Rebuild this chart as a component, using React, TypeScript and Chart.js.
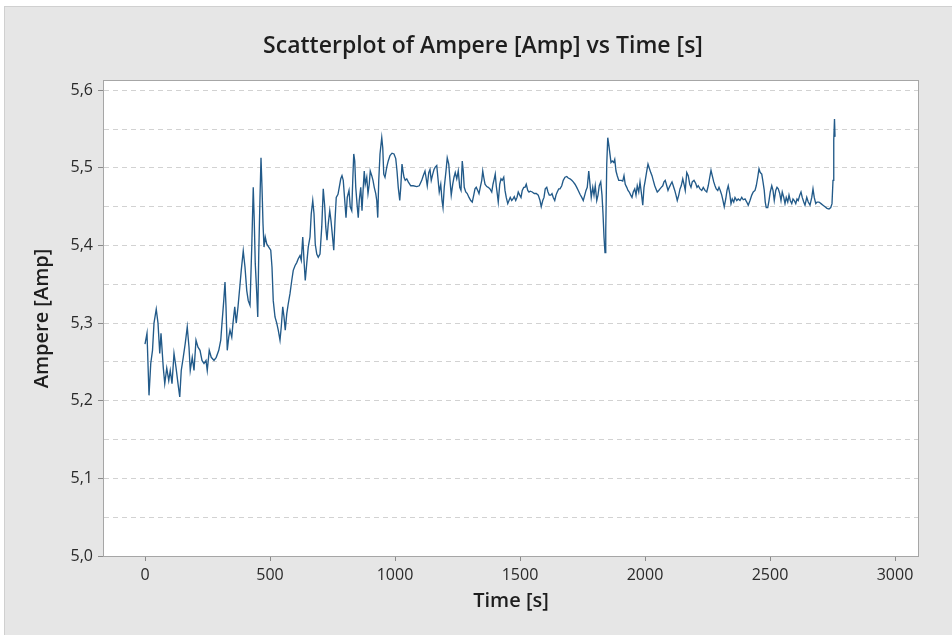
import React, { useEffect, useRef } from "react";
import { Chart, registerables } from "chart.js";

Chart.register(...registerables);

const TITLE = "Scatterplot of Ampere [Amp] vs Time [s]";
const X_TITLE = "Time [s]";
const Y_TITLE = "Ampere [Amp]";

const X_TICKS = [0, 500, 1000, 1500, 2000, 2500, 3000];
const Y_GRID = [5.0, 5.05, 5.1, 5.15, 5.2, 5.25, 5.3, 5.35, 5.4, 5.45, 5.5, 5.55, 5.6];
const Y_LABELED = [5.0, 5.1, 5.2, 5.3, 5.4, 5.5, 5.6];

const TIME = [
  0, 8, 16, 23, 30, 36, 45, 52, 59, 64, 73, 79, 87, 95, 101, 108, 116, 124, 132, 139,
  145, 153, 161, 169, 176, 181, 189, 196, 204, 212, 220, 228, 236, 244, 249, 257, 265, 276, 285, 295,
  303, 308, 315, 320, 324, 329, 335, 340, 347, 352, 359, 365, 372, 379, 385, 393, 400, 407, 413, 420,
  427, 433, 437, 441, 447, 451, 455, 460, 464, 468, 472, 476, 481, 487, 495, 503, 508, 513, 520, 527,
  533, 540, 545, 551, 556, 561, 567, 573, 580, 587, 593, 600, 607, 613, 620, 625, 631, 636, 641, 647,
  653, 660, 665, 671, 676, 681, 687, 693, 700, 707, 713, 719, 723, 728, 733, 739, 744, 749, 755, 760,
  765, 772, 777, 783, 788, 793, 799, 804, 809, 816, 821, 827, 831, 835, 839, 843, 848, 853, 857, 863,
  868, 873, 877, 881, 887, 892, 897, 901, 907, 912, 917, 923, 927, 931, 935, 940, 947, 951, 955, 960,
  967, 973, 980, 988, 996, 1003, 1008, 1013, 1019, 1023, 1028, 1032, 1036, 1041, 1047, 1053, 1063, 1073, 1087, 1097,
  1107, 1113, 1120, 1124, 1129, 1135, 1140, 1145, 1151, 1156, 1161, 1167, 1172, 1177, 1183, 1188, 1192, 1197, 1204, 1209,
  1215, 1220, 1225, 1231, 1236, 1241, 1247, 1253, 1259, 1264, 1269, 1273, 1277, 1283, 1289, 1296, 1303, 1309, 1315, 1320,
  1325, 1331, 1336, 1341, 1347, 1351, 1355, 1360, 1367, 1373, 1380, 1387, 1392, 1397, 1401, 1405, 1409, 1413, 1419, 1424,
  1429, 1435, 1440, 1445, 1451, 1456, 1461, 1467, 1472, 1477, 1483, 1488, 1493, 1499, 1504, 1509, 1515, 1520, 1525, 1531,
  1536, 1541, 1549, 1557, 1565, 1573, 1580, 1585, 1591, 1596, 1601, 1607, 1612, 1617, 1623, 1628, 1633, 1639, 1644, 1649,
  1655, 1660, 1667, 1673, 1680, 1687, 1693, 1700, 1707, 1713, 1720, 1727, 1733, 1740, 1747, 1753, 1759, 1764, 1769, 1775,
  1780, 1785, 1791, 1796, 1801, 1807, 1812, 1817, 1823, 1828, 1832, 1836, 1840, 1843, 1847, 1851, 1855, 1859, 1864, 1869,
  1875, 1879, 1884, 1889, 1895, 1900, 1905, 1911, 1916, 1921, 1927, 1932, 1937, 1943, 1948, 1953, 1959, 1964, 1969, 1975,
  1980, 1985, 1991, 1996, 2001, 2007, 2012, 2017, 2023, 2028, 2033, 2039, 2044, 2049, 2055, 2060, 2065, 2071, 2076, 2081,
  2087, 2092, 2097, 2103, 2108, 2113, 2119, 2124, 2129, 2135, 2140, 2145, 2151, 2156, 2161, 2167, 2173, 2179, 2184, 2189,
  2196, 2203, 2208, 2213, 2220, 2227, 2233, 2240, 2247, 2253, 2259, 2264, 2269, 2275, 2280, 2285, 2291, 2296, 2301, 2307,
  2312, 2317, 2323, 2328, 2333, 2339, 2344, 2349, 2355, 2360, 2367, 2373, 2380, 2387, 2393, 2400, 2407, 2413, 2420, 2427,
  2433, 2440, 2445, 2451, 2456, 2461, 2467, 2472, 2477, 2481, 2485, 2491, 2496, 2501, 2507, 2512, 2517, 2523, 2528, 2533,
  2539, 2544, 2549, 2555, 2560, 2565, 2571, 2576, 2581, 2587, 2592, 2597, 2603, 2608, 2613, 2619, 2624, 2629, 2635, 2640,
  2647, 2653, 2660, 2667, 2672, 2677, 2683, 2688, 2696, 2704, 2712, 2720, 2728, 2736, 2743, 2748, 2752, 2755, 2758, 2760,
];

const AMPERE = [
  5.273, 5.287, 5.207, 5.248, 5.265, 5.3, 5.318, 5.3, 5.261, 5.287, 5.243, 5.222, 5.242, 5.226, 5.239, 5.222, 5.261, 5.243, 5.222, 5.205,
  5.239, 5.256, 5.274, 5.295, 5.269, 5.239, 5.256, 5.239, 5.278, 5.269, 5.265, 5.252, 5.248, 5.252, 5.239, 5.265, 5.256, 5.252, 5.256, 5.265,
  5.278, 5.3, 5.329, 5.353, 5.321, 5.265, 5.282, 5.291, 5.282, 5.3, 5.321, 5.3, 5.321, 5.346, 5.368, 5.393, 5.372, 5.342, 5.329, 5.323,
  5.398, 5.475, 5.432, 5.377, 5.338, 5.308, 5.389, 5.462, 5.513, 5.475, 5.428, 5.398, 5.411, 5.402, 5.398, 5.394, 5.372, 5.329, 5.308, 5.3,
  5.291, 5.278, 5.295, 5.321, 5.308, 5.291, 5.312, 5.325, 5.338, 5.355, 5.368, 5.374, 5.378, 5.383, 5.387, 5.381, 5.411, 5.381, 5.355, 5.377,
  5.398, 5.411, 5.441, 5.458, 5.441, 5.402, 5.389, 5.385, 5.389, 5.424, 5.473, 5.45, 5.424, 5.407, 5.428, 5.445, 5.432, 5.415, 5.394, 5.432,
  5.462, 5.466, 5.475, 5.486, 5.49, 5.484, 5.458, 5.436, 5.462, 5.471, 5.45, 5.445, 5.484, 5.518, 5.509, 5.475, 5.454, 5.436, 5.458, 5.475,
  5.445, 5.475, 5.496, 5.479, 5.488, 5.467, 5.479, 5.496, 5.49, 5.484, 5.475, 5.467, 5.458, 5.436, 5.484, 5.518, 5.539, 5.526, 5.492, 5.488,
  5.501, 5.509, 5.516, 5.519, 5.518, 5.512, 5.496, 5.475, 5.458, 5.475, 5.505, 5.496, 5.488, 5.484, 5.486, 5.482, 5.477, 5.477, 5.476, 5.477,
  5.484, 5.49, 5.496, 5.488, 5.477, 5.494, 5.498, 5.484, 5.492, 5.498, 5.501, 5.503, 5.486, 5.469, 5.479, 5.458, 5.449, 5.475, 5.496, 5.513,
  5.505, 5.484, 5.465, 5.479, 5.488, 5.494, 5.486, 5.496, 5.475, 5.471, 5.509, 5.496, 5.475, 5.469, 5.467, 5.462, 5.458, 5.456, 5.465, 5.473,
  5.475, 5.471, 5.467, 5.475, 5.484, 5.496, 5.488, 5.479, 5.476, 5.475, 5.473, 5.469, 5.479, 5.486, 5.492, 5.477, 5.467, 5.456, 5.479, 5.486,
  5.484, 5.488, 5.471, 5.462, 5.454, 5.458, 5.462, 5.458, 5.46, 5.463, 5.458, 5.462, 5.469, 5.465, 5.462, 5.471, 5.475, 5.475, 5.479, 5.471,
  5.469, 5.47, 5.469, 5.467, 5.467, 5.465, 5.458, 5.45, 5.458, 5.462, 5.473, 5.475, 5.469, 5.465, 5.465, 5.467, 5.462, 5.458, 5.465, 5.469,
  5.473, 5.473, 5.477, 5.484, 5.488, 5.489, 5.487, 5.486, 5.484, 5.482, 5.479, 5.475, 5.471, 5.466, 5.462, 5.458, 5.465, 5.471, 5.475, 5.496,
  5.479, 5.462, 5.475, 5.465, 5.477, 5.458, 5.465, 5.477, 5.482, 5.465, 5.441, 5.411, 5.391, 5.42, 5.505, 5.539, 5.53, 5.52, 5.507, 5.509,
  5.507, 5.511, 5.496, 5.49, 5.484, 5.484, 5.484, 5.483, 5.49, 5.479, 5.475, 5.471, 5.469, 5.465, 5.462, 5.469, 5.473, 5.465, 5.477, 5.469,
  5.482, 5.469, 5.452, 5.475, 5.484, 5.496, 5.505, 5.5, 5.494, 5.49, 5.484, 5.477, 5.473, 5.469, 5.471, 5.473, 5.475, 5.477, 5.482, 5.484,
  5.477, 5.471, 5.475, 5.479, 5.482, 5.477, 5.471, 5.465, 5.458, 5.465, 5.473, 5.477, 5.486, 5.479, 5.471, 5.494, 5.49, 5.479, 5.475, 5.482,
  5.484, 5.48, 5.475, 5.477, 5.473, 5.471, 5.475, 5.471, 5.469, 5.477, 5.488, 5.497, 5.49, 5.482, 5.477, 5.473, 5.471, 5.475, 5.471, 5.465,
  5.458, 5.45, 5.46, 5.471, 5.477, 5.467, 5.454, 5.46, 5.456, 5.462, 5.458, 5.46, 5.458, 5.462, 5.459, 5.46, 5.456, 5.452, 5.458, 5.465,
  5.469, 5.471, 5.477, 5.488, 5.499, 5.494, 5.492, 5.482, 5.471, 5.456, 5.449, 5.449, 5.458, 5.469, 5.477, 5.471, 5.458, 5.471, 5.475, 5.473,
  5.467, 5.458, 5.469, 5.462, 5.454, 5.462, 5.456, 5.465, 5.458, 5.454, 5.46, 5.458, 5.454, 5.46, 5.458, 5.465, 5.469, 5.462, 5.456, 5.452,
  5.462, 5.456, 5.452, 5.462, 5.473, 5.462, 5.454, 5.456, 5.456, 5.454, 5.452, 5.45, 5.448, 5.447, 5.449, 5.454, 5.484, 5.536, 5.563, 5.54,
];

const FONT = "'Open Sans', 'Noto Sans', sans-serif";
const LINE_COLOR = "#225a89";

const fmt = (v: number) => v.toFixed(1).replace(".", ",");
const isLabeled = (v: number) => Y_LABELED.some((m) => Math.abs(m - v) < 1e-6);

const panelPlugin = {
  id: "panel",
  beforeDraw(chart: any) {
    const { ctx, width, height, chartArea: a } = chart;
    ctx.save();
    ctx.fillStyle = "#ffffff";
    ctx.fillRect(0, 0, width, height);
    ctx.fillStyle = "#e6e6e6";
    ctx.fillRect(4, 6, width - 4, height - 6);
    ctx.strokeStyle = "#d0d0d0";
    ctx.lineWidth = 1;
    ctx.strokeRect(4.5, 6.5, width - 4, height - 5);
    ctx.fillStyle = "#ffffff";
    ctx.fillRect(a.left, a.top, a.right - a.left, a.bottom - a.top);
    ctx.restore();
  },
  afterDraw(chart: any) {
    const { ctx, chartArea: a } = chart;
    ctx.save();
    ctx.strokeStyle = "#a6a6a6";
    ctx.lineWidth = 1;
    const l = Math.round(a.left) - 0.5;
    const t = Math.round(a.top) - 0.5;
    const r = Math.round(a.right) + 0.5;
    const b = Math.round(a.bottom) + 0.5;
    ctx.strokeRect(l, t, r - l, b - t);
    ctx.restore();
  },
};

export default function App() {
  const ref = useRef<HTMLCanvasElement>(null);

  useEffect(() => {
    if (!ref.current) return;
    const points = TIME.map((t, i) => ({ x: t, y: AMPERE[i] }));
    const chart = new Chart(ref.current, {
      type: "scatter",
      data: {
        datasets: [
          {
            data: points,
            showLine: true,
            borderColor: LINE_COLOR,
            backgroundColor: LINE_COLOR,
            borderWidth: 1.35,
            pointRadius: 0,
            tension: 0,
            xAxisID: "x",
            yAxisID: "y",
          },
        ],
      },
      plugins: [panelPlugin],
      options: {
        animation: false,
        responsive: false,
        maintainAspectRatio: false,
        devicePixelRatio: 1,
        layout: { padding: { left: 14, right: 0, top: 0, bottom: 0 } },
        plugins: {
          legend: { display: false },
          tooltip: { enabled: false },
          title: {
            display: true,
            text: TITLE,
            color: "#1e1e1e",
            font: { family: FONT, size: 23, weight: "600" },
            padding: { top: 33, bottom: 20.4 },
          },
        },
        scales: {
          x: {
            type: "linear",
            position: "bottom",
            min: -164,
            max: 3092,
            afterBuildTicks: (scale: any) => {
              scale.ticks = X_TICKS.map((v) => ({ value: v }));
            },
            afterFit: (scale: any) => {
              scale.height = 79;
            },
            border: { display: false },
            grid: {
              drawOnChartArea: false,
              drawTicks: true,
              tickLength: 5,
              tickColor: "#8a8a8a",
            },
            ticks: {
              autoSkip: false,
              maxRotation: 0,
              padding: 5,
              color: "#2a2a2a",
              font: { family: FONT, size: 16 },
              callback: (v: any) => String(v),
            },
            title: {
              display: true,
              text: X_TITLE,
              color: "#1e1e1e",
              font: { family: FONT, size: 20, weight: "600" },
              padding: { top: 0, bottom: 22 },
            },
          },
          y: {
            type: "linear",
            position: "left",
            min: 5.0,
            max: 5.612,
            afterBuildTicks: (scale: any) => {
              scale.ticks = Y_GRID.map((v) => ({ value: v }));
            },
            afterFit: (scale: any) => {
              scale.width = 90;
            },
            border: { display: false, dash: [5, 4] },
            grid: {
              color: "#d2d2d2",
              lineWidth: 1,
              drawTicks: true,
              tickLength: 6,
              tickColor: (ctx: any) => (ctx.tick && isLabeled(ctx.tick.value) ? "#8a8a8a" : "rgba(0,0,0,0)"),
            },
            ticks: {
              autoSkip: false,
              padding: 5,
              color: "#2a2a2a",
              font: { family: FONT, size: 16 },
              callback: (v: any) => (isLabeled(Number(v)) ? fmt(Number(v)) : ""),
            },
            title: {
              display: true,
              text: Y_TITLE,
              color: "#1e1e1e",
              font: { family: FONT, size: 20, weight: "600" },
              padding: { top: 16, bottom: 0 },
            },
          },
          yRight: {
            type: "linear",
            position: "right",
            display: true,
            min: 5.0,
            max: 5.612,
            afterFit: (scale: any) => {
              scale.width = 34;
            },
            border: { display: false },
            grid: { display: false, drawTicks: false },
            ticks: { display: false },
            title: { display: false },
          },
        },
      },
    });
    return () => chart.destroy();
  }, []);

  return (
    <div style={{ position: "fixed", left: 0, top: 0, width: 952, height: 635 }}>
      <canvas ref={ref} width={952} height={635} style={{ display: "block", width: 952, height: 635 }} />
    </div>
  );
}
